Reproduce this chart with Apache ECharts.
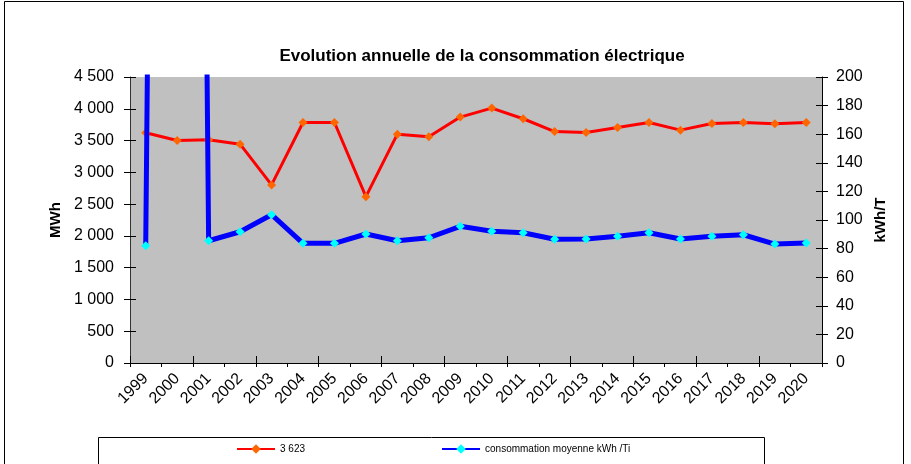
<!DOCTYPE html>
<html>
<head>
<meta charset="utf-8">
<script src="https://cdn.jsdelivr.net/npm/echarts@6/dist/echarts.min.js"></script>
<style>
html,body{margin:0;padding:0;background:#fff;}
#chart{width:911px;height:464px;}
</style>
</head>
<body>
<div id="chart"></div>
<script>
// ---- data ----
var years = ['1999','2000','2001','2002','2003','2004','2005','2006','2007','2008','2009','2010','2011','2012','2013','2014','2015','2016','2017','2018','2019','2020'];
var consoMWh = [3623, 3500, 3511, 3443, 2802, 3784, 3784, 2617, 3601, 3559, 3869, 4011, 3843, 3642, 3626, 3705, 3784, 3664, 3768, 3784, 3764, 3784];
var consoMoyenne = [82.0, 2400, 85.5, 91.8, 103.7, 83.7, 83.7, 90.2, 85.5, 87.6, 95.6, 92.1, 91.1, 86.5, 86.7, 88.6, 91.1, 86.7, 88.6, 89.7, 83.2, 83.9];
var seriesNames = ['3 623', 'consommation moyenne kWh /Ti'];
var chartTitle = 'Evolution annuelle de la consommation électrique';
var leftAxisName = 'MWh';
var rightAxisName = 'kWh/T';

var FONT = "'Liberation Sans', Arial, sans-serif";
function fmtThousands(v){
  if (v >= 1000) {
    var r = String(v % 1000); while (r.length < 3) r = '0' + r;
    return Math.floor(v/1000) + ' ' + r;
  }
  return String(v);
}

var chart = echarts.init(document.getElementById('chart'), null, {renderer:'canvas'});
var grid = {left:130, right:89, top:77, bottom:101, containLabel:false,
            show:true, backgroundColor:'#C0C0C0', borderWidth:0};

chart.setOption({
  animation:false,
  textStyle:{fontFamily:FONT, color:'#000'},
  title:{
    text: chartTitle, left: 477, top: 43, textAlign:'center',
    textStyle:{fontFamily:FONT, fontSize:17, fontWeight:'bold', color:'#000'}
  },
  graphic:[
    {type:'rect', shape:{x:4.5, y:1.5, width:899, height:480}, style:{fill:null, stroke:'#000', lineWidth:1}, silent:true},
    {type:'rect', shape:{x:98.5, y:437.5, width:666, height:40}, style:{fill:'#fff', stroke:'#000', lineWidth:1}, silent:true, z:-1}
  ],
  legend:{
    data: seriesNames, left: 236, top: 444, itemWidth: 38, itemHeight: 12, itemGap: 136,
    textStyle:{fontFamily:FONT, fontSize:10, color:'#000'}, padding:0
  },
  grid: grid,
  xAxis:[
    {type:'category', data:years, boundaryGap:true,
     axisLine:{show:true, lineStyle:{color:'#000', width:1}},
     axisTick:{show:true, inside:false, length:4, lineStyle:{color:'#000'}},
     axisLabel:{rotate:45, fontSize:16, color:'#000', fontFamily:FONT, margin:13, interval:0},
     splitLine:{show:false}},
    {type:'category', data:years, boundaryGap:true, position:'bottom',
     axisLine:{show:false}, axisTick:{show:true, inside:true, length:7, lineStyle:{color:'#000'}},
     axisLabel:{show:false}, splitLine:{show:false}}
  ],
  yAxis:[
    {type:'value', min:0, max:4500, interval:500, position:'left',
     name: leftAxisName, nameLocation:'middle', nameGap:66, nameRotate:90,
     nameTextStyle:{fontFamily:FONT, fontSize:15, fontWeight:'bold', color:'#000'},
     axisLine:{show:true, lineStyle:{color:'#333', width:1}},
     axisTick:{show:true, inside:false, length:6, lineStyle:{color:'#000'}},
     axisLabel:{fontSize:16, color:'#000', fontFamily:FONT, margin:16, formatter:fmtThousands},
     splitLine:{show:false}},
    {type:'value', min:0, max:200, interval:20, position:'right',
     name: rightAxisName, nameLocation:'middle', nameGap:50, nameRotate:90,
     nameTextStyle:{fontFamily:FONT, fontSize:15, fontWeight:'bold', color:'#000'},
     axisLine:{show:true, lineStyle:{color:'#000', width:1}},
     axisTick:{show:true, inside:false, length:6, lineStyle:{color:'#000'}},
     axisLabel:{fontSize:16, color:'#000', fontFamily:FONT, margin:14},
     splitLine:{show:false}},
    {type:'value', min:0, max:4500, interval:500, position:'left',
     axisLine:{show:false}, axisTick:{show:true, inside:true, length:6, lineStyle:{color:'#000'}},
     axisLabel:{show:false}, splitLine:{show:false}},
    {type:'value', min:0, max:200, interval:20, position:'right',
     axisLine:{show:false}, axisTick:{show:true, inside:true, length:6, lineStyle:{color:'#000'}},
     axisLabel:{show:false}, splitLine:{show:false}}
  ],
  series:[
    {name: seriesNames[0], type:'line', xAxisIndex:0, yAxisIndex:0, data: consoMWh,
     symbol:'diamond', symbolSize:9, clip:true,
     lineStyle:{color:'#FF0000', width:3},
     itemStyle:{color:'#FF6600', borderWidth:0}, z:2},
    {name: seriesNames[1], type:'line', xAxisIndex:0, yAxisIndex:1, data: consoMoyenne,
     symbol:'diamond', symbolSize:9, clip:true,
     lineStyle:{color:'#0000FF', width:5},
     itemStyle:{color:'#00FFFF', borderWidth:0}, z:3}
  ]
});
</script>
</body>
</html>
